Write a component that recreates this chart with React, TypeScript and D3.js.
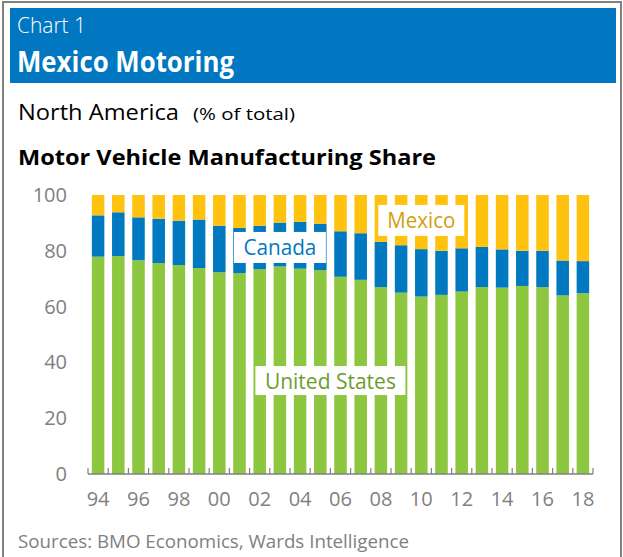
import React from "react";
import * as d3 from "d3";

const years = ["94","95","96","97","98","99","00","01","02","03","04","05","06","07","08","09","10","11","12","13","14","15","16","17","18"];
const unitedStates = [77.9,78.1,76.6,75.6,74.9,73.8,72.3,72.0,73.4,74.4,73.6,73.1,70.7,69.6,67.0,65.0,63.6,64.2,65.4,67.0,66.8,67.4,67.0,64.0,64.8];
const canada = [14.8,15.7,15.4,15.9,15.9,17.4,16.7,16.2,15.6,15.7,16.8,16.6,16.3,16.7,16.2,17.0,17.0,15.8,15.5,14.4,13.7,12.6,13.0,12.5,11.5];
const mexico = [7.3,6.2,8.0,8.5,9.2,8.8,11.0,11.8,11.0,9.9,9.6,10.3,13.0,13.7,16.8,18.0,19.4,20.0,19.1,18.6,19.5,20.0,20.0,23.5,23.7];
const yTickValues = [0,20,40,60,80,100];
const xTickLabels = years.filter((_, i) => i % 2 === 0);

const seriesNames = ["United States","Canada","Mexico"];
const seriesColors: Record<string,string> = {"United States":"#8DC63F", Canada:"#0079C1", Mexico:"#FFC20E"};
const labelColors: Record<string,string> = {"United States":"#6E9C2C", Canada:"#0079C1", Mexico:"#D29E0B"};

const FONT = "'Open Sans', 'Noto Sans', sans-serif";

export default function App() {
  const W = 623, H = 557;
  const x = d3.scaleBand<string>().domain(years).range([88, 593]).paddingInner(0.38).paddingOuter(0.19);
  const y = d3.scaleLinear().domain([0, 100]).range([474, 195]);
  const step = x.step();
  const bw = x.bandwidth();
  const gap = step * 0.38 / 2;

  const rows = years.map((yr, i) => ({ year: yr, "United States": unitedStates[i], Canada: canada[i], Mexico: mexico[i] }));
  const stacked = d3.stack<any>().keys(seriesNames)(rows);

  const boundaries = d3.range(years.length + 1).map(i => x.range()[0] + i * step);

  const annotations = [
    { name: "Canada", cx: (x("03") as number) + bw / 2, v: 81.2, w: 92, h: 31, tl: 73 },
    { name: "Mexico", cx: (x("10") as number) + bw / 2, v: 90.9, w: 86, h: 31, tl: 68 },
    { name: "United States", cx: (x("06") as number) - gap, v: 33.5, w: 150, h: 29, tl: 131 },
  ];

  return (
    <svg width={W} height={H} style={{ position: "absolute", left: 0, top: 0, background: "#fff" }} fontFamily={FONT}>
      <rect x={3} y={2} width={618} height={600} fill="#fff" stroke="#808080" strokeWidth={2} />
      <rect x={10} y={8} width={606} height={75} fill="#0077C0" />
      <text x={17} y={33} fill="#fff" fontSize={22} fontWeight={300} textLength={69} lengthAdjust="spacingAndGlyphs">Chart 1</text>
      <text x={17} y={72} fill="#fff" fontSize={28} fontWeight={700} textLength={217} lengthAdjust="spacingAndGlyphs">Mexico Motoring</text>
      <text x={18} y={119.5} fill="#000" fontSize={21} textLength={161} lengthAdjust="spacingAndGlyphs">North America</text>
      <text x={193} y={119.5} fill="#000" fontSize={16} textLength={102} lengthAdjust="spacingAndGlyphs">(% of total)</text>
      <text x={18} y={165} fill="#000" fontSize={21} fontWeight={700} textLength={418} lengthAdjust="spacingAndGlyphs">Motor Vehicle Manufacturing Share</text>

      {stacked.map(s => (
        <g key={s.key} fill={seriesColors[s.key]}>
          {s.map((d, i) => (
            <rect key={i} x={x(years[i])} y={y(d[1])} width={bw} height={y(d[0]) - y(d[1])} />
          ))}
        </g>
      ))}

      <line x1={boundaries[0]} x2={boundaries[boundaries.length - 1]} y1={y(0)} y2={y(0)} stroke="#808080" strokeWidth={1.5} />
      {boundaries.map((bx, i) => (
        <line key={i} x1={bx} x2={bx} y1={y(0)} y2={y(0) - 6} stroke="#808080" strokeWidth={1.2} />
      ))}

      {yTickValues.map(v => (
        <text key={v} x={67} y={y(v) + 7} textAnchor="end" fontSize={20} fill="#808080">{v}</text>
      ))}
      {xTickLabels.map(l => (
        <text key={l} x={(x(l) as number) + bw / 2} y={505.5} textAnchor="middle" fontSize={20} fill="#808080">{l}</text>
      ))}

      {annotations.map(a => {
        const cy = y(a.v);
        return (
          <g key={a.name}>
            <rect x={a.cx - a.w / 2} y={cy - a.h / 2} width={a.w} height={a.h} fill="#fff" />
            <text x={a.cx} y={cy + 8} textAnchor="middle" fontSize={22} fill={labelColors[a.name]} textLength={a.tl} lengthAdjust="spacingAndGlyphs">{a.name}</text>
          </g>
        );
      })}

      <text x={18} y={548} fontSize={19} fill="#808080" textLength={391} lengthAdjust="spacingAndGlyphs">Sources: BMO Economics, Wards Intelligence</text>
    </svg>
  );
}
